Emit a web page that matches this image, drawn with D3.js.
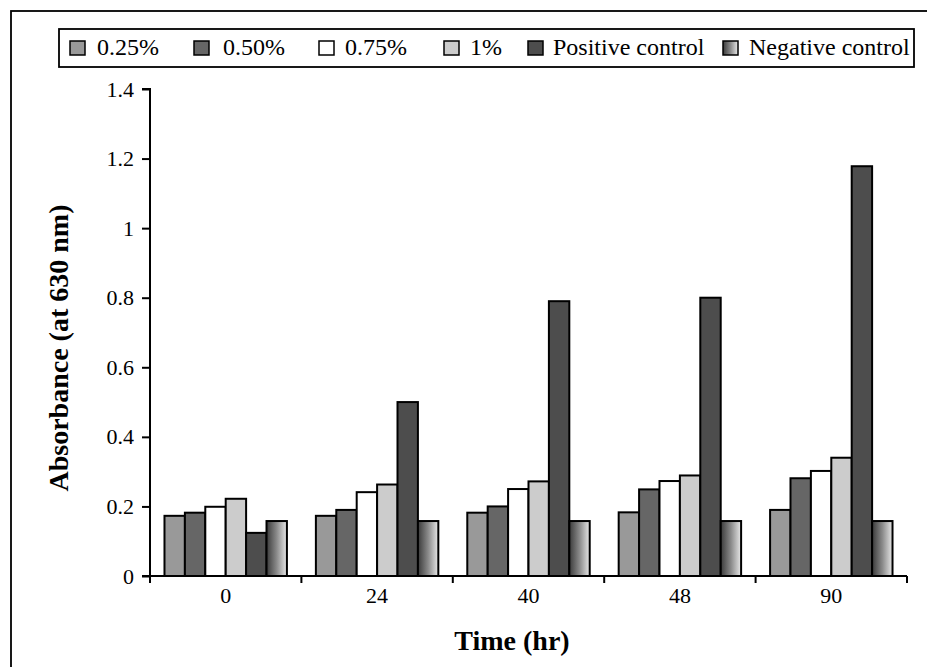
<!DOCTYPE html>
<html><head><meta charset="utf-8">
<script src="https://cdn.jsdelivr.net/npm/d3@7/dist/d3.min.js"></script>
<style>body{margin:0;background:#fff}svg{display:block}text{font-family:"Liberation Serif","Times New Roman",serif}</style>
</head><body><svg id="c" width="927" height="667"></svg>
<script>
const categories = ["0","24","40","48","90"];
const seriesNames = ["0.25%","0.50%","0.75%","1%","Positive control","Negative control"];
const s025 = [0.173,0.173,0.182,0.183,0.190];
const s050 = [0.182,0.190,0.200,0.249,0.281];
const s075 = [0.199,0.241,0.250,0.273,0.302];
const s1   = [0.222,0.263,0.272,0.289,0.340];
const sPos = [0.124,0.500,0.790,0.800,1.178];
const sNeg = [0.158,0.158,0.158,0.158,0.158];
const yTicks = [0,0.2,0.4,0.6,0.8,1,1.2,1.4];
const series = [s025,s050,s075,s1,sPos,sNeg];

const svg = d3.select("#c");
const defs = svg.append("defs");
const g = defs.append("linearGradient").attr("id","neg").attr("x1","0").attr("x2","1").attr("y1","0").attr("y2","0");
g.append("stop").attr("offset","0").attr("stop-color","#3a3a3a");
g.append("stop").attr("offset","0.5").attr("stop-color","#8a8a8a");
g.append("stop").attr("offset","1").attr("stop-color","#e8e8e8");
const fills = ["#999999","#666666","#ffffff","#cccccc","#4d4d4d","url(#neg)"];

// outer frame
svg.append("rect").attr("x",11).attr("y",11).attr("width",940).attr("height",700).attr("fill","none").attr("stroke","#000").attr("stroke-width",1.8);

const x0 = 150, x1 = 907, yTop = 89, yBot = 576;
const x = d3.scaleBand().domain(categories).range([x0,x1]).paddingInner(0).paddingOuter(0);
const y = d3.scaleLinear().domain([0,1.4]).range([yBot,yTop]);
const inner = d3.scaleBand().domain(d3.range(6)).range([0,x.bandwidth()]).paddingInner(0).paddingOuter(0.71);

// bars
series.forEach((arr,si)=>{
  svg.append("g").selectAll("rect").data(arr).join("rect")
    .attr("x",(d,i)=>x(categories[i])+inner(si))
    .attr("y",d=>y(d))
    .attr("width",inner.bandwidth())
    .attr("height",d=>y(0)-y(d))
    .attr("fill",fills[si]).attr("stroke","#000").attr("stroke-width",2);
});

// y axis
const ya = svg.append("g").attr("transform",`translate(${x0},0)`)
  .call(d3.axisLeft(y).tickValues(yTicks).tickFormat(d=>String(d)).tickSize(8).tickPadding(8));
ya.select(".domain").attr("stroke-width",2).attr("d",`M-8,${yTop}H0V${yBot}H-8`);
ya.selectAll(".tick line").attr("stroke-width",2);
ya.selectAll("text").attr("font-size",22).attr("font-family","Liberation Serif").attr("fill","#000");

// x axis
const xa = svg.append("g").attr("transform",`translate(0,${yBot})`)
  .call(d3.axisBottom(x).tickSize(0).tickPadding(0));
xa.select(".domain").attr("stroke-width",2).attr("d",`M${x0},0H${x1}`);
xa.selectAll("text").attr("font-size",22).attr("font-family","Liberation Serif").attr("fill","#000").attr("dy",null).attr("y",27);
const bounds = categories.map(c=>x(c)).concat([x1]);
svg.append("g").selectAll("line").data(bounds).join("line")
  .attr("x1",d=>d).attr("x2",d=>d).attr("y1",yBot).attr("y2",yBot+7)
  .attr("stroke","#000").attr("stroke-width",2);

// axis titles
svg.append("text").attr("x",512).attr("y",650).attr("text-anchor","middle")
  .attr("font-size",28).attr("font-weight","bold").text("Time (hr)");
svg.append("text").attr("transform","translate(68,348) rotate(-90)").attr("text-anchor","middle")
  .attr("font-size",28).attr("font-weight","bold").text("Absorbance (at 630 nm)");

// legend
svg.append("rect").attr("x",59).attr("y",29).attr("width",855).attr("height",38).attr("fill","#fff").attr("stroke","#000").attr("stroke-width",1.8);
const legX = [70,194,319,444,528,723];
const legT = [97,223,345,470,553,749];
seriesNames.forEach((n,i)=>{
  svg.append("rect").attr("x",legX[i]).attr("y",41).attr("width",15).attr("height",14)
    .attr("fill",fills[i]).attr("stroke","#000").attr("stroke-width",1.5);
  svg.append("text").attr("x",legT[i]).attr("y",55).attr("font-size",24).text(n);
});
</script></body></html>
